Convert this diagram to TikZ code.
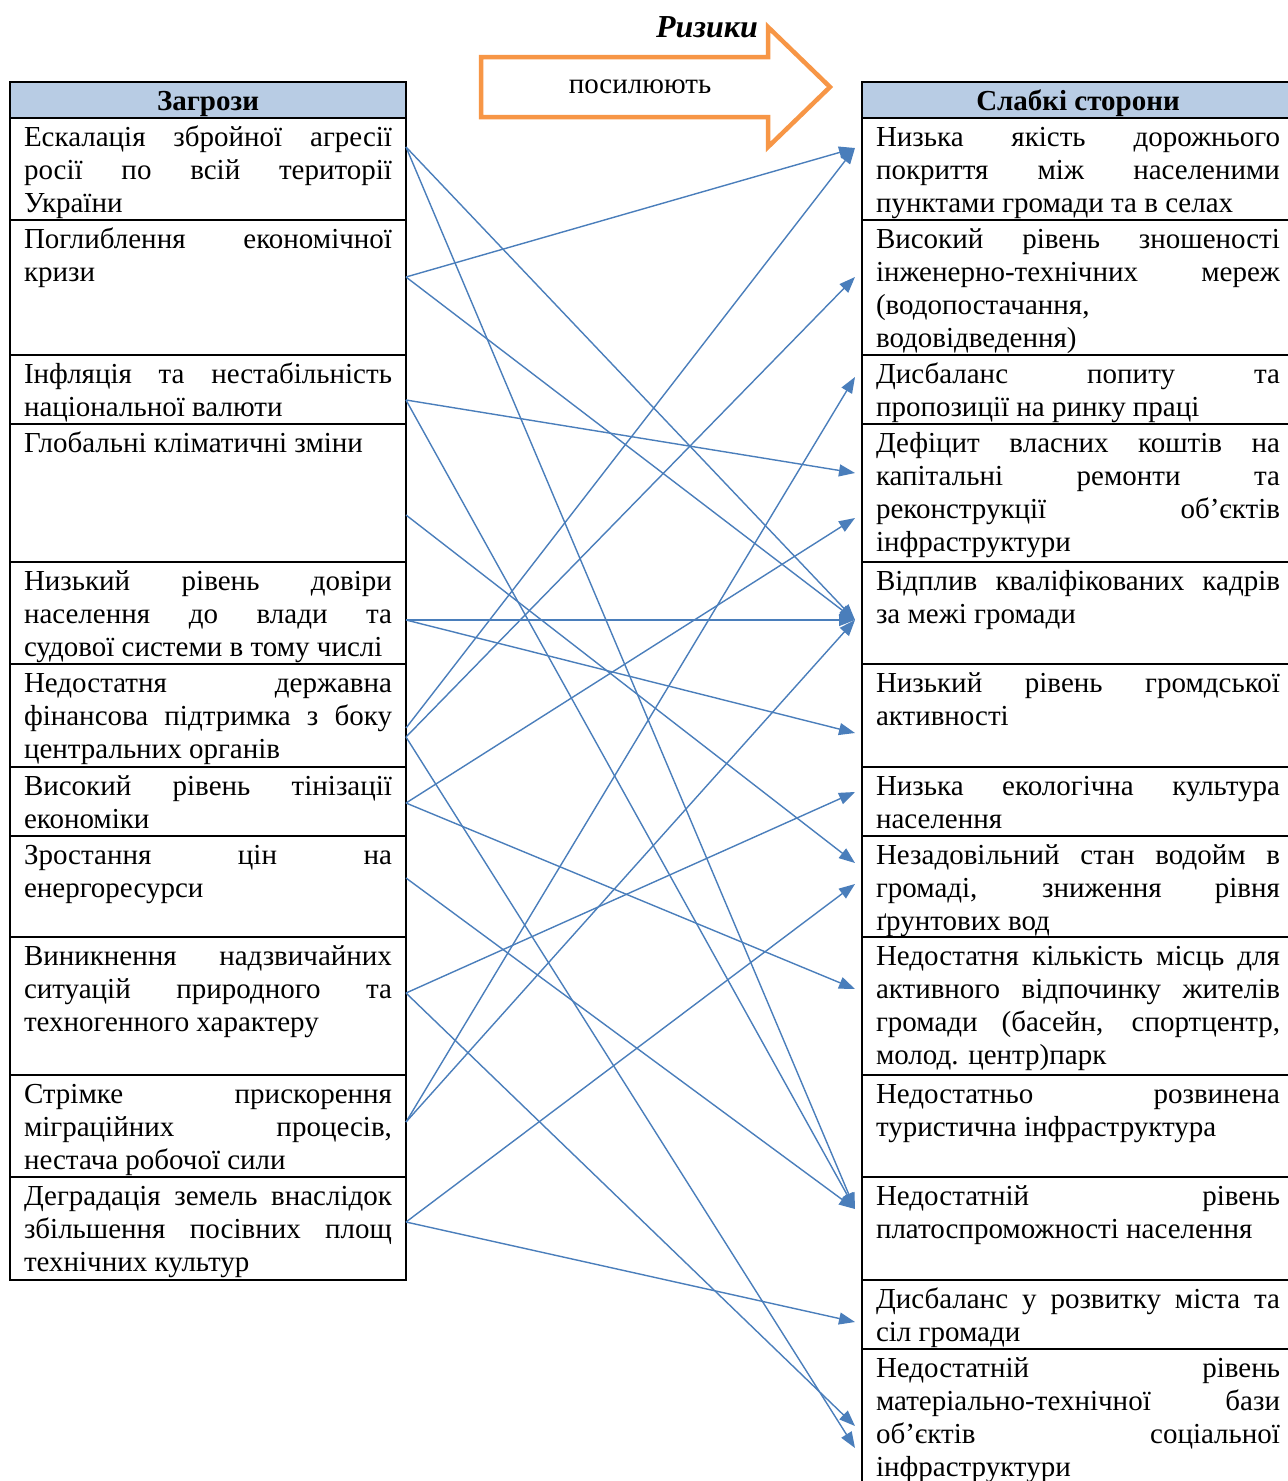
\documentclass[tikz,border=0pt]{standalone}
\usepackage{fontspec}
\setmainfont{Liberation Serif}
\usetikzlibrary{arrows.meta}
\definecolor{linkblue}{RGB}{74,126,187}
\definecolor{hdrblue}{RGB}{184,204,228}
\definecolor{arrorange}{RGB}{247,150,70}
\hyphenpenalty=10000 \exhyphenpenalty=10000 \tolerance=10000 \hbadness=10000
\newcommand{\cellbox}[3]{\parbox[t][#1pt][t]{#2pt}{\rule{0pt}{28.5pt}#3}}
\begin{document}
\begin{tikzpicture}[x=1pt,y=-1pt,
  every node/.style={font=\fontsize{29}{33}\selectfont},
  cellbase/.style={draw, line width=2pt, anchor=north west, inner xsep=14pt, inner ysep=0pt, outer sep=0pt},
  hdr/.style={draw, line width=2pt, fill=hdrblue, anchor=north west, inner sep=0pt, outer sep=0pt,
    minimum height=36pt, text height=24pt, text depth=3pt, font=\fontsize{29}{33}\selectfont\bfseries},
  link/.style={draw=linkblue, line width=1.4pt, -{Triangle[length=16pt,width=12pt]}}
]
\useasboundingbox (0,0) rectangle (1288,1481);
\clip (0,0) rectangle (1288,1481);
\fill[white] (0,0) rectangle (1288,1481);

% orange arrow
\draw[arrorange, line width=4.5pt, line join=miter] (481,57) -- (768,57) -- (768,27) -- (830,87) -- (768,147) -- (768,117) -- (481,117) -- cycle;
\node[font=\fontsize{32}{36}\selectfont\bfseries\itshape] (risk) at (707,27) {Ризики};
\node (verb) at (640,87) {посилюють};

% headers
\node[hdr, minimum width=396pt] (HL) at (10,82) {Загрози};
\node[hdr, minimum width=432pt] (HR) at (862,82) {Слабкі сторони};

% left cells
\node[cellbase] (L1) at (10,118) {\cellbox{102}{368}{Ескалація збройної агресії\linebreak росії по всій території\linebreak України}};
\node[cellbase] (L2) at (10,220) {\cellbox{135}{368}{Поглиблення економічної\linebreak кризи}};
\node[cellbase] (L3) at (10,355) {\cellbox{69}{368}{Інфляція та нестабільність\linebreak національної валюти}};
\node[cellbase] (L4) at (10,424) {\cellbox{138}{368}{Глобальні кліматичні зміни}};
\node[cellbase] (L5) at (10,562) {\cellbox{102}{368}{Низький рівень довіри\linebreak населення до влади та\linebreak судової системи в тому числі}};
\node[cellbase] (L6) at (10,664) {\cellbox{103}{368}{Недостатня державна\linebreak фінансова підтримка з боку\linebreak центральних органів}};
\node[cellbase] (L7) at (10,767) {\cellbox{69}{368}{Високий рівень тінізації\linebreak економіки}};
\node[cellbase] (L8) at (10,836) {\cellbox{101}{368}{Зростання цін на\linebreak енергоресурси}};
\node[cellbase] (L9) at (10,937) {\cellbox{138}{368}{Виникнення надзвичайних\linebreak ситуацій природного та\linebreak техногенного характеру}};
\node[cellbase] (L10) at (10,1075) {\cellbox{102}{368}{Стрімке прискорення\linebreak міграційних процесів,\linebreak нестача робочої сили}};
\node[cellbase] (L11) at (10,1177) {\cellbox{103}{368}{Деградація земель внаслідок\linebreak збільшення посівних площ\linebreak технічних культур}};

% right cells
\node[cellbase] (R1) at (862,118) {\cellbox{102}{404}{Низька якість дорожнього\linebreak покриття між населеними\linebreak пунктами громади та в селах}};
\node[cellbase] (R2) at (862,220) {\cellbox{135}{404}{Високий рівень зношеності\linebreak інженерно-технічних мереж\linebreak (водопостачання,\linebreak водовідведення)}};
\node[cellbase] (R3) at (862,355) {\cellbox{69}{404}{Дисбаланс попиту та\linebreak пропозиції на ринку праці}};
\node[cellbase] (R4) at (862,424) {\cellbox{138}{404}{Дефіцит власних коштів на\linebreak капітальні ремонти та\linebreak реконструкції об’єктів\linebreak інфраструктури}};
\node[cellbase] (R5) at (862,562) {\cellbox{102}{404}{Відплив кваліфікованих кадрів\linebreak за межі громади}};
\node[cellbase] (R6) at (862,664) {\cellbox{103}{404}{Низький рівень громдської\linebreak активності}};
\node[cellbase] (R7) at (862,767) {\cellbox{69}{404}{Низька екологічна культура\linebreak населення}};
\node[cellbase] (R8) at (862,836) {\cellbox{101}{404}{Незадовільний стан водойм в\linebreak громаді, зниження рівня\linebreak ґрунтових вод}};
\node[cellbase] (R9) at (862,937) {\cellbox{138}{404}{Недостатня кількість місць для\linebreak активного відпочинку жителів\linebreak громади (басейн, спортцентр,\linebreak молод. центр)парк}};
\node[cellbase] (R10) at (862,1075) {\cellbox{102}{404}{Недостатньо розвинена\linebreak туристична інфраструктура}};
\node[cellbase] (R11) at (862,1177) {\cellbox{103}{404}{Недостатній рівень\linebreak платоспроможності населення}};
\node[cellbase] (R12) at (862,1280) {\cellbox{69}{404}{Дисбаланс у розвитку міста та\linebreak сіл громади}};
\node[cellbase] (R13) at (862,1349) {\cellbox{140}{404}{Недостатній рівень\linebreak матеріально-технічної бази\linebreak об’єктів соціальної\linebreak інфраструктури}};

% connectors
\draw[link] ([yshift=-29pt]L1.north east) -- ([xshift=-7pt,yshift=-58pt]R5.north west);
\draw[link] ([yshift=-29pt]L1.north east) -- ([xshift=-7pt,yshift=-32pt]R11.north west);
\draw[link] ([yshift=-57pt]L2.north east) -- ([xshift=-7pt,yshift=-30pt]R1.north west);
\draw[link] ([yshift=-57pt]L2.north east) -- ([xshift=-7pt,yshift=-58pt]R5.north west);
\draw[link] ([yshift=-45pt]L3.north east) -- ([xshift=-7pt,yshift=-49pt]R4.north west);
\draw[link] ([yshift=-45pt]L3.north east) -- ([xshift=-7pt,yshift=-32pt]R11.north west);
\draw[link] ([yshift=-91pt]L4.north east) -- ([xshift=-7pt,yshift=-27pt]R8.north west);
\draw[link] ([yshift=-58pt]L5.north east) -- ([xshift=-7pt,yshift=-58pt]R5.north west);
\draw[link] ([yshift=-58pt]L5.north east) -- ([xshift=-7pt,yshift=-69pt]R6.north west);
\draw[link] ([yshift=-64pt]L6.north east) -- ([xshift=-7pt,yshift=-30pt]R1.north west);
\draw[link] ([yshift=-73pt]L6.north east) -- ([xshift=-7pt,yshift=-57pt]R2.north west);
\draw[link] ([yshift=-73pt]L6.north east) -- ([xshift=-7pt,yshift=-99pt]R13.north west);
\draw[link] ([yshift=-36pt]L7.north east) -- ([xshift=-7pt,yshift=-94pt]R4.north west);
\draw[link] ([yshift=-36pt]L7.north east) -- ([xshift=-7pt,yshift=-52pt]R9.north west);
\draw[link] ([yshift=-42pt]L8.north east) -- ([xshift=-7pt,yshift=-32pt]R11.north west);
\draw[link] ([yshift=-56pt]L9.north east) -- ([xshift=-7pt,yshift=-25pt]R7.north west);
\draw[link] ([yshift=-56pt]L9.north east) -- ([xshift=-7pt,yshift=-77pt]R13.north west);
\draw[link] ([yshift=-47pt]L10.north east) -- ([xshift=-7pt,yshift=-22pt]R3.north west);
\draw[link] ([yshift=-47pt]L10.north east) -- ([xshift=-7pt,yshift=-58pt]R5.north west);
\draw[link] ([yshift=-45pt]L11.north east) -- ([xshift=-7pt,yshift=-48pt]R8.north west);
\draw[link] ([yshift=-45pt]L11.north east) -- ([xshift=-7pt,yshift=-42pt]R12.north west);
\end{tikzpicture}
\end{document}
